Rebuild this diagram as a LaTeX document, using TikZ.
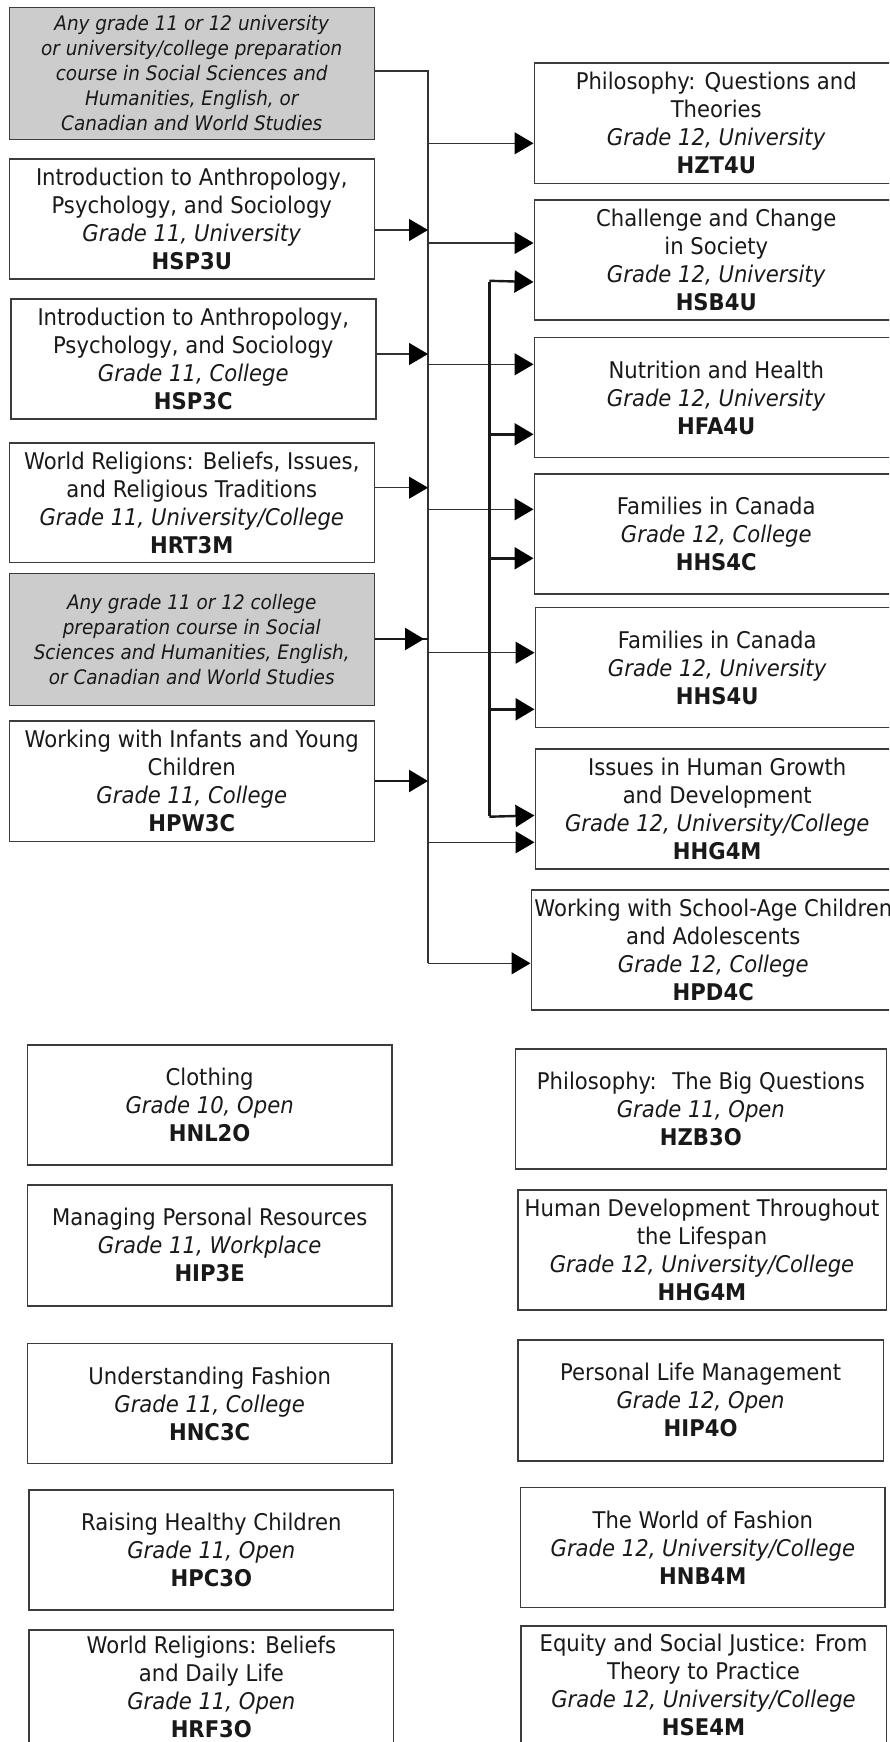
\documentclass[tikz,border=0pt]{standalone}
\usepackage{fontspec}
\setmainfont{DejaVu Sans}[FakeStretch=0.92]
\usetikzlibrary{arrows.meta}

\definecolor{boxline}{RGB}{60,60,60}
\definecolor{linkline}{RGB}{50,50,50}
\definecolor{prepfill}{RGB}{204,204,204}
\definecolor{ink}{RGB}{25,25,25}

\tikzset{
  course/.style={draw=boxline, line width=1.5pt, fill=white, text=ink,
    align=center, inner sep=0pt, anchor=north west,
    font=\fontsize{23}{28}\selectfont},
  prep/.style={course, fill=prepfill,
    font=\fontsize{20}{25}\selectfont\itshape},
  link/.style={draw=linkline, line width=1.2pt},
  heavylink/.style={draw=ink, line width=2.4pt},
  tip/.style={-{Triangle[length=19pt,width=22pt,fill=black,color=black]}},
}

\begin{document}
\begin{tikzpicture}[x=1pt,y=-1pt]
\fill[white] (0,0) rectangle (889,1742);
\useasboundingbox (0,0) rectangle (889,1742);
\clip (0,0) rectangle (889,1742);

% ---------- prerequisite column ----------
\node[prep, minimum width=365, minimum height=132] (anyU) at (8.5,6.7)
  {Any grade 11 or 12 university\\or university/college preparation\\course in Social Sciences and\\Humanities, English, or\\Canadian and World Studies};
\node[course, minimum width=365, minimum height=120] (hsp3u) at (8.5,158)
  {Introduction to Anthropology,\\Psychology, and Sociology\\\textit{Grade 11, University}\\\textbf{HSP3U}};
\node[course, minimum width=365, minimum height=120] (hsp3c) at (10,298.3)
  {Introduction to Anthropology,\\Psychology, and Sociology\\\textit{Grade 11, College}\\\textbf{HSP3C}};
\node[course, minimum width=365, minimum height=119.5] (hrt3m) at (8.5,442.3)
  {World Religions: Beliefs, Issues,\\and Religious Traditions\\\textit{Grade 11, University/College}\\\textbf{HRT3M}};
\node[prep, minimum width=365, minimum height=132] (anyC) at (8.5,572.7)
  {Any grade 11 or 12 college\\preparation course in Social\\Sciences and Humanities, English,\\or Canadian and World Studies};
\node[course, minimum width=365, minimum height=120.5] (hpw3c) at (8.5,720)
  {Working with Infants and Young\\Children\\\textit{Grade 11, College}\\\textbf{HPW3C}};

% ---------- grade 12 column ----------
\node[course, minimum width=364, minimum height=120.5] (hzt4u) at (533.5,62.3)
  {Philosophy: Questions and\\Theories\\\textit{Grade 12, University}\\\textbf{HZT4U}};
\node[course, minimum width=364, minimum height=120] (hsb4u) at (533.5,199.3)
  {Challenge and Change\\in Society\\\textit{Grade 12, University}\\\textbf{HSB4U}};
\node[course, minimum width=364, minimum height=120] (hfa4u) at (533.5,336.7)
  {Nutrition and Health\\\textit{Grade 12, University}\\\textbf{HFA4U}};
\node[course, minimum width=364, minimum height=120] (hhs4c) at (533.5,473.3)
  {Families in Canada\\\textit{Grade 12, College}\\\textbf{HHS4C}};
\node[course, minimum width=364, minimum height=120] (hhs4u) at (534.5,606.7)
  {Families in Canada\\\textit{Grade 12, University}\\\textbf{HHS4U}};
\node[course, minimum width=364, minimum height=120] (hhg4m) at (534.5,748.3)
  {Issues in Human Growth\\and Development\\\textit{Grade 12, University/College}\\\textbf{HHG4M}};
\node[course, minimum width=364, minimum height=120] (hpd4c) at (530.5,889)
  {Working with School-Age Children\\and Adolescents\\\textit{Grade 12, College}\\\textbf{HPD4C}};

% ---------- courses without prerequisites ----------
\node[course, minimum width=364.6, minimum height=120] (hnl2o) at (26.6,1044.3)
  {Clothing\\\textit{Grade 10, Open}\\\textbf{HNL2O}};
\node[course, minimum width=364.6, minimum height=121] (hip3e) at (26.6,1184)
  {Managing Personal Resources\\\textit{Grade 11, Workplace}\\\textbf{HIP3E}};
\node[course, minimum width=364.6, minimum height=120] (hnc3c) at (26.6,1342.7)
  {Understanding Fashion\\\textit{Grade 11, College}\\\textbf{HNC3C}};
\node[course, minimum width=364.6, minimum height=120.3] (hpc3o) at (28.3,1489)
  {Raising Healthy Children\\\textit{Grade 11, Open}\\\textbf{HPC3O}};
\node[course, minimum width=364.6, minimum height=114] (hrf3o) at (28.3,1629.3)
  {World Religions: Beliefs\\and Daily Life\\\textit{Grade 11, Open}\\\textbf{HRF3O}};

\node[course, minimum width=370.8, minimum height=120] (hzb3o) at (514.7,1048.3)
  {Philosophy:~ The Big Questions\\\textit{Grade 11, Open}\\\textbf{HZB3O}};
\node[course, minimum width=368.5, minimum height=120] (hhg4mb) at (517,1189.3)
  {Human Development Throughout\\the Lifespan\\\textit{Grade 12, University/College}\\\textbf{HHG4M}};
\node[course, minimum width=365.7, minimum height=120.7] (hip4o) at (517,1339.3)
  {Personal Life Management\\\textit{Grade 12, Open}\\\textbf{HIP4O}};
\node[course, minimum width=364.6, minimum height=120] (hnb4m) at (519.8,1486.7)
  {The World of Fashion\\\textit{Grade 12, University/College}\\\textbf{HNB4M}};
\node[course, minimum width=365.5, minimum height=118] (hse4m) at (520,1625)
  {Equity and Social Justice: From\\Theory to Practice\\\textit{Grade 12, University/College}\\\textbf{HSE4M}};

% ---------- main bus ----------
\coordinate (busTop) at (428,71);
\coordinate (busEnd) at (428,963.3);
% inputs on the bus
\coordinate (in1) at (428,230);
\coordinate (in2) at (428,354);
\coordinate (in3) at (428,487.7);
\coordinate (in4) at (428,639);
\coordinate (in4t) at (424,639);
\coordinate (in5) at (428,781);
% outputs from the bus
\coordinate (out1) at (428,143.3);
\coordinate (out2) at (428,243);
\coordinate (out3) at (428,364.3);
\coordinate (out4) at (428,509.3);
\coordinate (out5) at (428,652.7);
\coordinate (out6) at (428,842.3);

\draw[link] (anyU.east |- busTop) -- (busTop) -- (busEnd);
\draw[link,tip] (busEnd) -- (busEnd -| hpd4c.west);

\draw[link,tip] (hsp3u.east |- in1) -- (in1);
\draw[link,tip] (hsp3c.east |- in2) -- (in2);
\draw[link,tip] (hrt3m.east |- in3) -- (in3);
\draw[heavylink] (anyC.east |- in4) -- (in4);
\draw[heavylink,tip] (anyC.east |- in4) -- (in4t);
\draw[heavylink,tip] (hpw3c.east |- in5) -- (in5);

\draw[link,tip] (out1) -- (out1 -| hzt4u.west);
\draw[link,tip] (out2) -- (out2 -| hsb4u.west);
\draw[link,tip] (out3) -- (out3 -| hfa4u.west);
\draw[link,tip] (out4) -- (out4 -| hhs4c.west);
\draw[link,tip] (out5) -- (out5 -| hhs4u.west);
\draw[link,tip] (out6) -- (out6 -| hhg4m.west);

% ---------- second bus ----------
\coordinate (sTop) at (489.3,282);
\coordinate (s2) at (489.3,434.3);
\coordinate (s3) at (489.3,558.3);
\coordinate (s4) at (489.3,709.3);
\coordinate (sEnd) at (489.3,815.5);

\draw[heavylink] (sTop) -- (sEnd);
\draw[heavylink,tip] ([yshift=1.2pt]sTop) -- (sTop -| hsb4u.west);
\draw[heavylink,tip] (s2) -- (s2 -| hfa4u.west);
\draw[heavylink,tip] (s3) -- (s3 -| hhs4c.west);
\draw[heavylink,tip] (s4) -- (s4 -| hhs4u.west);
\draw[heavylink,tip] ([yshift=-1.2pt]sEnd) -- (sEnd -| hhg4m.west);
\end{tikzpicture}
\end{document}
